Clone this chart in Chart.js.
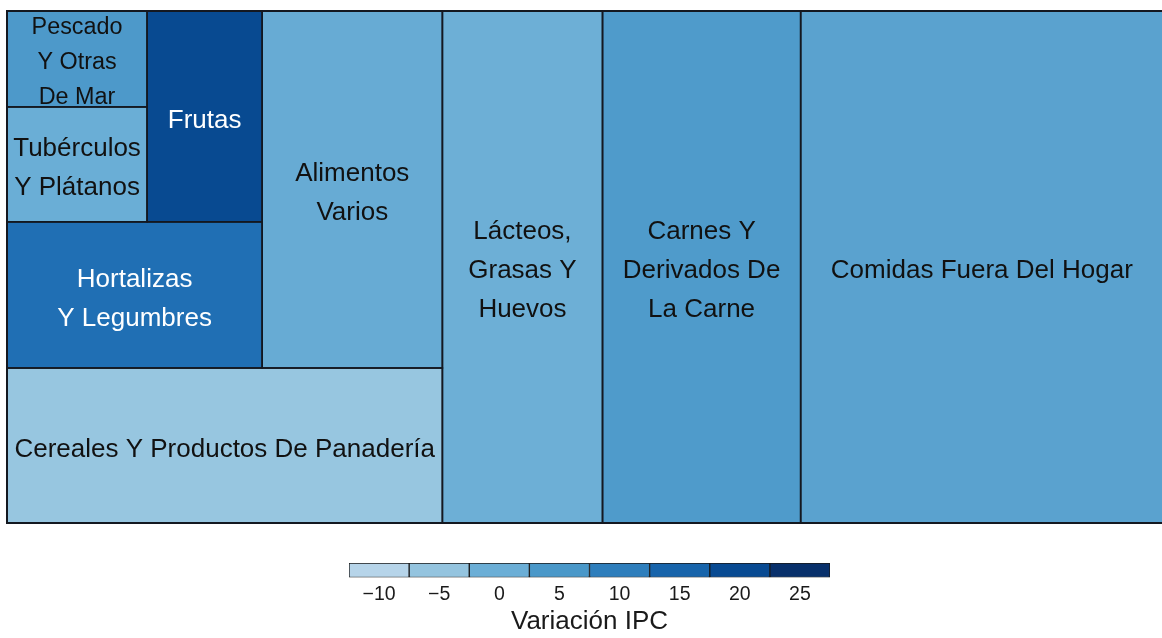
<!DOCTYPE html>
<html lang="es">
<head>
<meta charset="UTF-8">
<title>Variación IPC - Alimentos</title>
<script src="https://cdn.jsdelivr.net/npm/chart.js@4"></script>
<style>
  html, body { margin: 0; padding: 0; background: #fff; overflow: hidden; }
  #mapa { position: absolute; left: 0; top: 0; }
  #leyenda { position: absolute; left: 0; top: 550px; }
</style>
</head>
<body>
<canvas id="mapa" width="1164" height="530"></canvas>
<canvas id="leyenda" width="1162" height="88"></canvas>
<script>
// Datos: categorías, ponderación (tamaño del recuadro) y variación IPC (color)
const categorias = [
  "Comidas Fuera Del Hogar",
  ["Carnes Y", "Derivados De", "La Carne"],
  ["Lácteos,", "Grasas Y", "Huevos"],
  "Cereales Y Productos De Panadería",
  ["Alimentos", "Varios"],
  ["Hortalizas", "Y Legumbres"],
  "Frutas",
  ["Tubérculos", "Y Plátanos"],
  ["Pescado", "Y Otras", "De Mar"]
];
const ponderacion = [31.34, 17.14, 13.85, 11.40, 10.87, 6.30, 4.10, 2.72, 2.27];
const variacion = [2.6, 4.3, -0.2, -5.4, 0.6, 12.8, 20.1, 0.1, 4.6];

// Escala de la leyenda
const ticksLeyenda = [-10, -5, 0, 5, 10, 15, 20, 25];
const tituloLeyenda = "Variación IPC";

// Paleta Blues de ColorBrewer repartida entre -25 y 25
const blues = ["#f7fbff", "#deebf7", "#c6dbef", "#9ecae1", "#6baed6",
               "#4292c6", "#2171b5", "#08519c", "#08306b"];
const rangoColor = [-25, 25];

const FUENTE = '"Liberation Sans", Arial, Helvetica, sans-serif';
Chart.defaults.font.family = FUENTE;

function hexRgb(h) {
  const n = parseInt(h.slice(1), 16);
  return [(n >> 16) & 255, (n >> 8) & 255, n & 255];
}

function colorPara(v) {
  let t = (v - rangoColor[0]) / (rangoColor[1] - rangoColor[0]) * (blues.length - 1);
  t = Math.max(0, Math.min(blues.length - 1, t));
  const i = Math.min(Math.floor(t), blues.length - 2);
  const f = t - i;
  const a = hexRgb(blues[i]), b = hexRgb(blues[i + 1]);
  const c = a.map((x, k) => Math.round(x + (b[k] - x) * f));
  return `rgb(${c[0]}, ${c[1]}, ${c[2]})`;
}

function luminancia(rgbStr) {
  const c = rgbStr.match(/\d+/g).map(Number).map(x => {
    x /= 255;
    return x <= 0.03928 ? x / 12.92 : Math.pow((x + 0.055) / 1.055, 2.4);
  });
  return 0.2126 * c[0] + 0.7152 * c[1] + 0.0722 * c[2];
}

// Diseño: cada recuadro ocupa una franja a lo largo del lado corto del espacio restante
function disenoFranjas(pesos, ar) {
  const total = pesos.reduce((s, v) => s + v, 0);
  const orden = pesos.map((v, i) => i).sort((a, b) => pesos[b] - pesos[a]);
  let r = { x: 0, y: 0, w: ar, h: 1 };
  const out = [];
  orden.forEach((idx, k) => {
    const area = pesos[idx] / total * ar;
    let t;
    if (k === orden.length - 1) {
      t = { ...r };
    } else if (r.w >= r.h) {
      const sw = area / r.h;
      t = { x: r.x + r.w - sw, y: r.y, w: sw, h: r.h };
      r.w -= sw;
    } else {
      const sh = area / r.w;
      t = { x: r.x, y: r.y + r.h - sh, w: r.w, h: sh };
      r.h -= sh;
    }
    out.push({ idx, x0: t.x / ar, x1: (t.x + t.w) / ar, y0: t.y, y1: t.y + t.h });
  });
  return out;
}

const treemapPlugin = {
  id: "treemap",
  afterLayout(chart) {
    const a = chart.chartArea;
    chart.$recuadros = disenoFranjas(ponderacion, a.width / a.height);
  },
  beforeDatasetsDraw(chart) {
    const ctx = chart.ctx;
    const xs = chart.scales.x, ys = chart.scales.y;
    const cajas = chart.$recuadros.map(t => ({
      idx: t.idx,
      left: xs.getPixelForValue(t.x0), right: xs.getPixelForValue(t.x1),
      top: ys.getPixelForValue(t.y0), bottom: ys.getPixelForValue(t.y1)
    }));
    ctx.save();
    cajas.forEach(b => {
      ctx.fillStyle = colorPara(variacion[b.idx]);
      ctx.fillRect(b.left, b.top, b.right - b.left, b.bottom - b.top);
    });
    ctx.strokeStyle = "#141820";
    ctx.lineWidth = 1.6;
    cajas.forEach(b => ctx.strokeRect(b.left, b.top, b.right - b.left, b.bottom - b.top));
    const a = chart.chartArea;
    ctx.lineWidth = 2;
    ctx.strokeRect(a.left, a.top, a.right - a.left, a.bottom - a.top);

    // etiquetas
    ctx.textAlign = "center";
    ctx.textBaseline = "middle";
    cajas.forEach(b => {
      const lineas = [].concat(categorias[b.idx]);
      const w = b.right - b.left, h = b.bottom - b.top;
      let size = 26;
      if (lineas.length * size * 1.5 > h) size = (h - 2) / (lineas.length * 1.5) * 1.12;
      ctx.font = `${size}px ${FUENTE}`;
      const maxW = Math.max(...lineas.map(l => ctx.measureText(l).width));
      if (maxW > w - 6) {
        size *= (w - 6) / maxW;
        ctx.font = `${size}px ${FUENTE}`;
      }
      const lh = size * 1.5;
      const cx = (b.left + b.right) / 2, cy = (b.top + b.bottom) / 2 + 4;
      const col = colorPara(variacion[b.idx]);
      ctx.fillStyle = luminancia(col) < 0.2 ? "#ffffff" : "#111111";
      lineas.forEach((l, i) => {
        ctx.fillText(l, cx, cy + (i - (lineas.length - 1) / 2) * lh);
      });
    });
    ctx.restore();
  }
};

new Chart(document.getElementById("mapa"), {
  type: "scatter",
  data: { datasets: [] },
  options: {
    responsive: false,
    animation: false,
    events: [],
    layout: { padding: { left: 7, top: 11, right: 1, bottom: 7 } },
    scales: {
      x: { type: "linear", min: 0, max: 1, display: false },
      y: { type: "linear", min: 0, max: 1, reverse: true, display: false }
    },
    plugins: { legend: { display: false }, tooltip: { enabled: false } }
  },
  plugins: [treemapPlugin]
});

// Leyenda: barra de colores por intervalos
const paso = ticksLeyenda[1] - ticksLeyenda[0];
new Chart(document.getElementById("leyenda"), {
  type: "bar",
  data: {
    labels: [""],
    datasets: ticksLeyenda.map(v => ({
      data: [[v - paso / 2, v + paso / 2]],
      backgroundColor: colorPara(v),
      borderColor: "#1a1a1a",
      borderWidth: 1,
      borderSkipped: false,
      grouped: false,
      barPercentage: 1,
      categoryPercentage: 1
    }))
  },
  options: {
    indexAxis: "y",
    responsive: false,
    animation: false,
    events: [],
    layout: { padding: { left: 349, right: 332, top: 13, bottom: 0 } },
    scales: {
      y: { display: false },
      x: {
        type: "linear",
        min: ticksLeyenda[0] - paso / 2,
        max: ticksLeyenda[ticksLeyenda.length - 1] + paso / 2,
        grid: { display: false, drawTicks: false },
        border: { display: false },
        afterBuildTicks: s => { s.ticks = ticksLeyenda.map(v => ({ value: v })); },
        ticks: {
          padding: 7, maxRotation: 0, autoSkip: false, color: "#1a1a1a",
          font: { size: 19.5, lineHeight: 1.0 },
          callback: v => String(v).replace("-", "\u2212")
        }
      }
    },
    plugins: {
      legend: { display: false },
      tooltip: { enabled: false },
      title: {
        display: true, position: "bottom", text: tituloLeyenda, color: "#1a1a1a",
        font: { size: 26, weight: "normal", lineHeight: 1.0 }, padding: { top: -2, bottom: 3 }
      }
    }
  }
});
</script>
</body>
</html>
